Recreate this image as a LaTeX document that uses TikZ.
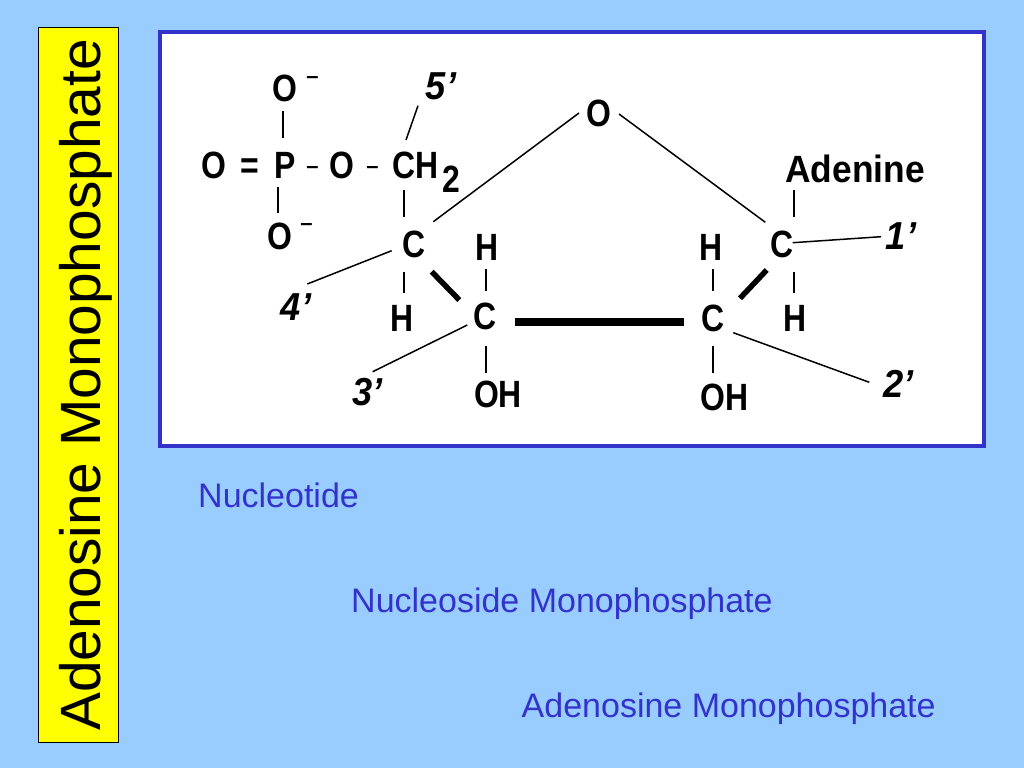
\documentclass[tikz,border=0pt]{standalone}
\usepackage{fontspec}
\setmainfont{Liberation Sans}
\newfontfamily\atomfont[Ligatures=TeX,FakeStretch=0.84]{Liberation Sans}
\newfontfamily\wordfont[Ligatures=TeX,FakeStretch=0.93]{Liberation Sans}

\definecolor{slideblue}{HTML}{99CCFF}
\definecolor{rimblue}{HTML}{3333CC}
\definecolor{boxyellow}{HTML}{FFFF00}

\tikzset{
  atom/.style={inner sep=0pt, font=\atomfont\bfseries\fontsize{38}{38}\selectfont},
  mark5/.style={inner sep=0pt, font=\wordfont\bfseries\itshape\fontsize{39}{39}\selectfont},
  charge/.style={inner sep=0pt, font=\bfseries\fontsize{22}{22}\selectfont},
  bond/.style={line width=2pt},
  pointer/.style={line width=1.5pt},
  wedge/.style={line width=5.5pt},
  heading/.style={anchor=base west, inner sep=0pt, text=rimblue, font=\fontsize{34}{34}\selectfont}
}

\begin{document}
\begin{tikzpicture}[x=1pt,y=-1pt]

\fill[slideblue] (0,0) rectangle (1024,768);
\useasboundingbox (0,0) rectangle (1024,768);

\draw[black, fill=boxyellow, line width=1pt] (38,27.5) rectangle (118,742.5);
\node (title) [rotate=90, anchor=base, inner sep=0pt, font=\fontsize{56.8}{57}\selectfont] at (100,385) {Adenosine Monophosphate};

\draw[rimblue, fill=white, line width=4pt] (160,32) rectangle (984,445.5);

% phosphate
\node[atom] (oa) at (285,88.5) {O};
\node[charge] (mina) at (312.5,80) {--};
\node[atom] (oc) at (214,165) {O};
\node[atom] (eq) at (250,169) {=};
\node[atom] (p) at (285,165) {P};
\node[charge] (dasha) at (312.5,170) {--};
\node[atom] (ol) at (342,165) {O};
\node[charge] (dashb) at (372.5,170) {--};
\node[atom] (ch) at (415.5,165) {CH};
\node[atom] (sub) at (451.5,179.5) {2};
\node[atom] (ob) at (279.5,236) {O};
\node[charge] (minb) at (306.5,227.5) {--};

% ring
\node[atom] (o) at (598.5,113) {O};
\node[atom] (cd) at (414.3,244) {C};
\node[atom] (hd) at (402,318) {H};
\node[atom] (cc) at (485,316.5) {C};
\node[atom] (hc) at (487,247.5) {H};
\node[atom] (ohc) at (498,394) {OH};
\node[atom] (cb) at (712.7,318) {C};
\node[atom] (hb) at (711,247.5) {H};
\node[atom] (ohb) at (724.5,397) {OH};
\node[atom] (ca) at (781.7,244) {C};
\node[atom] (ha) at (795.5,318) {H};
\node[inner sep=0pt, font=\wordfont\bfseries\fontsize{38}{38}\selectfont] (aden) at (855,168.8) {Adenine};

% carbon numbers
\node[mark5] (nume) at (441,86) {5'};
\node[mark5] (numd) at (296,307.5) {4'};
\node[mark5] (numc) at (367.5,392) {3'};
\node[mark5] (numb) at (898.5,384) {2'};
\node[mark5] (numa) at (901,236.5) {1'};

\draw[bond] ([shift={(-1.7,22.5)}]oa.center) -- ([shift={(-1.7,-27)}]p.center);
\draw[bond] ([shift={(-7,22)}]p.center) -- ([shift={(-1.5,-23)}]ob.center);
\draw[bond] ([shift={(-11.5,25)}]ch.center) -- ([shift={(-10.3,-27)}]cd.center);
\draw[bond] ([shift={(-10.3,28)}]cd.center) -- ([shift={(2,-25)}]hd.center);
\draw[bond] ([shift={(1,-25.5)}]cc.center) -- ([shift={(-1,21.5)}]hc.center);
\draw[bond] ([shift={(1,29.5)}]cc.center) -- ([shift={(-12,-21)}]ohc.center);
\draw[bond] ([shift={(0,-27)}]cb.center) -- ([shift={(1.7,21.5)}]hb.center);
\draw[bond] ([shift={(0,28)}]cb.center) -- ([shift={(-11.8,-24)}]ohb.center);
\draw[bond] ([shift={(12.6,-27)}]ca.center) -- ([shift={(-60.7,21.2)}]aden.center);
\draw[bond] ([shift={(12.6,28)}]ca.center) -- ([shift={(-1.2,-25)}]ha.center);

\draw[pointer] ([shift={(19,-22.3)}]cd.center) -- ([shift={(-19.5,0)}]o.center);
\draw[pointer] ([shift={(20.5,1)}]o.center) -- ([shift={(-16.4,-21.7)}]ca.center);

\draw[pointer] ([shift={(-9.5,-25)}]ch.center) -- ([shift={(-23,19.7)}]nume.center);
\draw[pointer] ([shift={(-22.6,6.7)}]cd.center) -- ([shift={(11.3,-23.5)}]numd.center);
\draw[pointer] ([shift={(-17.7,8.5)}]cc.center) -- ([shift={(5.2,-20.3)}]numc.center);
\draw[pointer] ([shift={(20.6,14.7)}]cb.center) -- ([shift={(-29.2,-1.7)}]numb.center);
\draw[pointer] ([shift={(11,-1.3)}]ca.center) -- ([shift={(-20,0.2)}]numa.center);

\draw[wedge] ([shift={(17.4,27.7)}]cd.center) -- ([shift={(-25.7,-16.5)}]cc.center);
\draw[wedge] ([shift={(27.3,-19.7)}]cb.center) -- ([shift={(-15,26)}]ca.center);
\draw[line width=8pt] ([shift={(30,5.2)}]cc.center) -- ([shift={(-28.7,3.7)}]cb.center);

\node[heading] (nucleo) at (198,507) {Nucleotide};
\node[heading] (nucleos) at (351,612) {Nucleoside Monophosphate};
\node[heading] (adeno) at (521.5,717) {Adenosine Monophosphate};

\end{tikzpicture}
\end{document}
